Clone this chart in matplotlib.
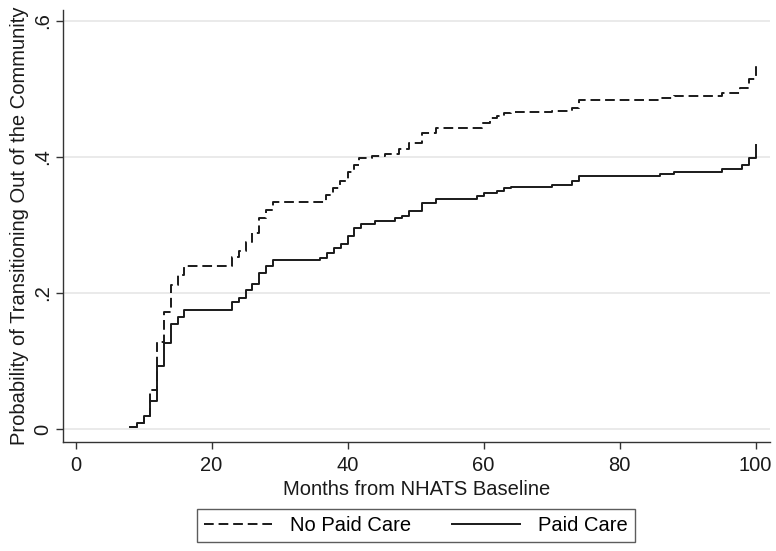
import matplotlib
matplotlib.use('Agg')
import matplotlib.pyplot as plt

plt.rcParams['font.family'] = ['Liberation Sans', 'DejaVu Sans']

# Paid Care (solid)
paid_t = [8, 9, 10, 11, 12, 13, 14, 15, 16, 23, 24, 25, 26, 27, 28, 29, 36, 37, 38, 39,
          40, 41, 42, 44, 47, 48, 49, 51, 53, 59, 60, 62, 63, 64, 70, 73, 74, 86, 88,
          95, 98, 99, 100]
paid_p = [0.003, 0.009, 0.019, 0.041, 0.093, 0.126, 0.154, 0.165, 0.175, 0.187, 0.193,
          0.204, 0.213, 0.230, 0.240, 0.249, 0.251, 0.259, 0.266, 0.272, 0.283, 0.296,
          0.301, 0.305, 0.310, 0.313, 0.321, 0.332, 0.338, 0.342, 0.347, 0.350, 0.354,
          0.356, 0.359, 0.364, 0.372, 0.375, 0.378, 0.382, 0.388, 0.398, 0.418]

# No Paid Care (dashed)
nopaid_t = [8, 9, 10, 11, 12, 13, 14, 15, 16, 23, 24, 25, 26, 27, 28, 29, 36.8, 37.8,
            38.9, 40, 40.9, 41.7, 43.6, 45.5, 47.5, 49, 50.9, 53, 59.7, 61, 62, 63, 64,
            70, 73, 74, 86, 88, 95, 97.7, 99, 100]
nopaid_p = [0.003, 0.009, 0.019, 0.057, 0.128, 0.172, 0.212, 0.226, 0.239, 0.253, 0.261,
            0.275, 0.288, 0.310, 0.322, 0.333, 0.344, 0.354, 0.364, 0.378, 0.388, 0.398,
            0.401, 0.404, 0.411, 0.421, 0.435, 0.443, 0.450, 0.457, 0.460, 0.464, 0.466,
            0.468, 0.472, 0.483, 0.486, 0.490, 0.494, 0.501, 0.515, 0.538]

yticks = [0, 0.2, 0.4, 0.6]
ytick_labels = ['0', '.2', '.4', '.6']
xticks = [0, 20, 40, 60, 80, 100]

FS = 14.5

fig = plt.figure(figsize=(7.76, 5.51), dpi=100)
ax = fig.add_axes([0.0812, 0.198, 0.911, 0.784])

for y in yticks:
    ax.axhline(y, color='#e6e6e6', lw=1.2, zorder=0)

ax.plot(nopaid_t, nopaid_p, drawstyle='steps-post', color='#1a1a1a', lw=1.4,
        dashes=(5, 2.5), label='No Paid Care')
ax.plot(paid_t, paid_p, drawstyle='steps-post', color='#1a1a1a', lw=1.4,
        label='Paid Care')

ax.set_xlim(-1.84, 102.1)
ax.set_ylim(-0.019, 0.616)
ax.set_xticks(xticks)
ax.set_yticks(yticks)
ax.set_yticklabels(ytick_labels, rotation=90, va='center')
ax.tick_params(labelsize=FS, length=5, width=1, color='#333333', labelcolor='#1a1a1a')
ax.tick_params(axis='y', pad=3)
ax.tick_params(axis='x', pad=5)

for s in ['top', 'right']:
    ax.spines[s].set_visible(False)
for s in ['left', 'bottom']:
    ax.spines[s].set_color('#333333')
    ax.spines[s].set_linewidth(1)

ax.set_xlabel('Months from NHATS Baseline', fontsize=FS, color='#1a1a1a', labelpad=4)
ax.set_ylabel('Probability of Transitioning Out of the Community', fontsize=FS,
              color='#1a1a1a', labelpad=3)

leg = fig.legend(loc='center', bbox_to_anchor=(0.536, 0.047), ncol=2, fontsize=FS,
                 frameon=True, fancybox=False, handlelength=3.4, handletextpad=0.9,
                 columnspacing=2.0, borderpad=0.35, borderaxespad=0)
leg.get_frame().set_edgecolor('#333333')
leg.get_frame().set_linewidth(1)

fig.savefig('out.png', dpi=100, facecolor='white')
